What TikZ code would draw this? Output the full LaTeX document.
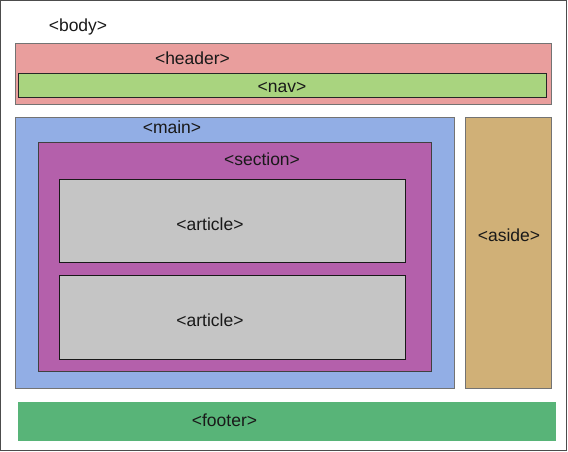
\documentclass[tikz,border=0pt]{standalone}
\usepackage{fontspec}
\setmainfont{Liberation Sans}
\usepackage{xcolor}
\usepackage{tikz}
\usetikzlibrary{positioning}

\definecolor{headerfill}{HTML}{E99E9D}
\definecolor{navfill}{HTML}{A9D47F}
\definecolor{mainfill}{HTML}{92AEE5}
\definecolor{sectionfill}{HTML}{B460AB}
\definecolor{articlefill}{HTML}{C5C5C5}
\definecolor{asidefill}{HTML}{D0B077}
\definecolor{footerfill}{HTML}{58B478}

\begin{document}
\begin{tikzpicture}[
    x=1pt, y=-1pt,
    areabox/.style={draw=black!55, anchor=north west, inner sep=0pt, outer sep=0pt, line width=0.9pt},
    tagtext/.style={font=\fontsize{17.5}{20}\selectfont, anchor=base, inner sep=0pt, text=black!90}
]

% Page
\useasboundingbox (0,0) rectangle (568,451);
\draw[black!70, line width=1.2pt] (0.6,0.6) rectangle (566.4,450.4);

% Boxes
\node[areabox, fill=headerfill, minimum width=536pt, minimum height=61pt] (header) at (15,43) {};
\node[areabox, draw=black!85, fill=navfill, minimum width=528pt, minimum height=24pt] (nav) at (18,73) {};
\node[areabox, fill=mainfill, minimum width=439pt, minimum height=271pt] (main) at (15,117) {};
\node[areabox, fill=asidefill, minimum width=86pt, minimum height=271pt] (aside) at (465,117) {};
\node[areabox, draw=black!75, fill=sectionfill, minimum width=393pt, minimum height=229pt] (section) at (38,142) {};
\node[areabox, draw=black!90, fill=articlefill, minimum width=346pt, minimum height=83pt] (article1) at (59,179) {};
\node[areabox, draw=black!90, fill=articlefill, minimum width=346pt, minimum height=84pt] (article2) at (59,275) {};
\node[areabox, draw=none, fill=footerfill, minimum width=538pt, minimum height=39pt] (footer) at (18,402) {};

% Labels
\node[tagtext] (bodytag) at (78,31) {<body>};
\node[tagtext] (headertag) at (192.5,64.7) {<header>};
\node[tagtext] (navtag) at (282,92.7) {<nav>};
\node[tagtext] (maintag) at (172,133.7) {<main>};
\node[tagtext] (sectiontag) at (262,165) {<section>};
\node[tagtext] (articletag1) at (210,230) {<article>};
\node[tagtext] (articletag2) at (210,326.7) {<article>};
\node[tagtext] (asidetag) at (509,241) {<aside>};
\node[tagtext] (footertag) at (224.5,426) {<footer>};

\end{tikzpicture}
\end{document}
